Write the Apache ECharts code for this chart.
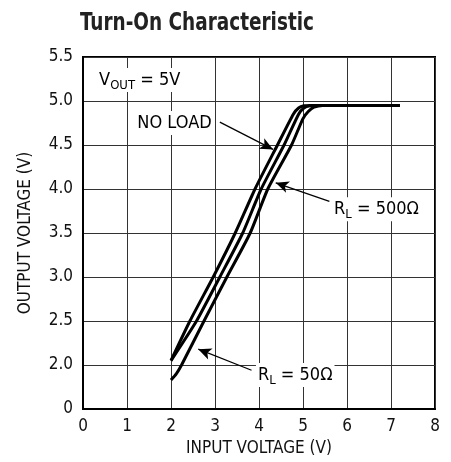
<!DOCTYPE html>
<html>
<head>
<meta charset="utf-8">
<script src="https://cdn.jsdelivr.net/npm/echarts@6/dist/echarts.min.js"></script>
<style>
html,body{margin:0;padding:0;background:#fff;}
#c{width:451px;height:462px;}
</style>
</head>
<body>
<div id="c"></div>
<script>
// ---- data ----
const xTickLabels = ['0','1','2','3','4','5','6','7','8'];
// broken y axis: the lowest grid step is labelled "0"
const yTickLabels = ['0','2.0','2.5','3.0','3.5','4.0','4.5','5.0','5.5'];
const noLoad = [[2.0,2.05],[2.43,2.5],[2.96,3.0],[3.46,3.5],[3.91,4.0],[4.42,4.5],[4.78,4.85],[4.9,4.92],[5.02,4.945],[5.2,4.95],[7.2,4.95]];
const rl500  = [[2.0,2.05],[2.58,2.5],[3.11,3.0],[3.63,3.5],[4.05,4.0],[4.57,4.5],[4.9,4.85],[5.02,4.92],[5.15,4.945],[5.35,4.95],[7.2,4.95]];
const rl50   = [[2.0,1.83],[2.12,1.9],[2.24,2.0],[2.75,2.5],[3.27,3.0],[3.8,3.5],[4.2,4.0],[4.74,4.5],[5.0,4.8],[5.12,4.88],[5.25,4.93],[5.45,4.95],[7.2,4.95]];
const titleText = 'Turn-On Characteristic';
const xName = 'INPUT VOLTAGE (V)';
const yName = 'OUTPUT VOLTAGE (V)';

const FONT = '"Liberation Sans Narrow","DejaVu Sans Condensed","Arial Narrow",sans-serif';
const chart = echarts.init(document.getElementById('c'), null, {renderer:'canvas'});

const lineSeries = (name, data) => ({
  name, type:'line', data, showSymbol:false, smooth:0.2,
  lineStyle:{color:'#000', width:3}, z:5, silent:true
});

const arrowLine = (from, to) => ({
  type:'line', data:[], silent:true,
  markLine:{
    silent:true, symbol:['none','arrow'], symbolSize:[9,13],
    lineStyle:{color:'#000', width:1.2, type:'solid'},
    label:{show:false},
    data:[[{coord:from},{coord:to}]]
  }
});

chart.setOption({
  animation:false,
  grid:{left:83, right:16, top:57, bottom:53, show:true, borderColor:'#000', borderWidth:2},
  xAxis:{
    type:'value', min:0, max:8, interval:1,
    name:xName, nameLocation:'middle', nameGap:30,
    nameTextStyle:{fontFamily:FONT, fontSize:17, color:'#111'},
    axisLine:{show:true, lineStyle:{color:'#000', width:2}},
    axisTick:{show:false},
    axisLabel:{fontFamily:FONT, fontSize:17, color:'#111', margin:9,
      formatter:(v)=>xTickLabels[Math.round(v)]},
    splitLine:{show:true, lineStyle:{color:'#333', width:1}}
  },
  yAxis:{
    type:'value', min:1.5, max:5.5, interval:0.5,
    name:yName, nameLocation:'middle', nameGap:49, nameRotate:90,
    nameTextStyle:{fontFamily:FONT, fontSize:17, color:'#111'},
    axisLine:{show:true, lineStyle:{color:'#000', width:2}},
    axisTick:{show:false},
    axisLabel:{fontFamily:FONT, fontSize:17, color:'#111', margin:10,
      formatter:(v)=>yTickLabels[Math.round((v-1.5)/0.5)]},
    splitLine:{show:true, lineStyle:{color:'#333', width:1}}
  },
  series:[
    lineSeries('NO LOAD', noLoad),
    lineSeries('RL = 500Ω', rl500),
    lineSeries('RL = 50Ω', rl50),
    arrowLine([3.11,4.76],[4.32,4.45]),
    arrowLine([5.6,3.86],[4.38,4.07]),
    arrowLine([3.83,1.94],[2.62,2.18])
  ]
});

// annotation texts, anchored in data coordinates
const rich = {
  n:{fontFamily:FONT, fontSize:18, color:'#111', lineHeight:24, verticalAlign:'middle'},
  s:{fontFamily:FONT, fontSize:13, color:'#111', lineHeight:14, verticalAlign:'bottom'}
};
const px = (p)=>chart.convertToPixel({gridIndex:0}, p);
const ann = [
  {at:[0.32,5.24], text:'{n|V}{s|OUT}{n| = 5V}', align:'left'},
  {at:[2.97,4.75], text:'{n|NO LOAD}', align:'right'},
  {at:[5.66,3.77], text:'{n|R}{s|L}{n| = 500Ω}', align:'left'},
  {at:[3.93,1.886], text:'{n|R}{s|L}{n| = 50Ω}', align:'left'}
];
const g = ann.map(a=>{
  const p = px(a.at);
  return {type:'text', x:p[0], y:p[1], z:10, silent:true,
    style:{text:a.text, rich, align:a.align, verticalAlign:'middle',
      backgroundColor:'#fff', padding:[0,2,0,2]}};
});
g.push({type:'text', x:80, y:23, scaleX:0.82, z:10, silent:true,
  style:{text:titleText, fontFamily:FONT, fontWeight:'bold', fontSize:25,
    fill:'#222', align:'left', verticalAlign:'middle'}});
chart.setOption({graphic:g});
</script>
</body>
</html>
